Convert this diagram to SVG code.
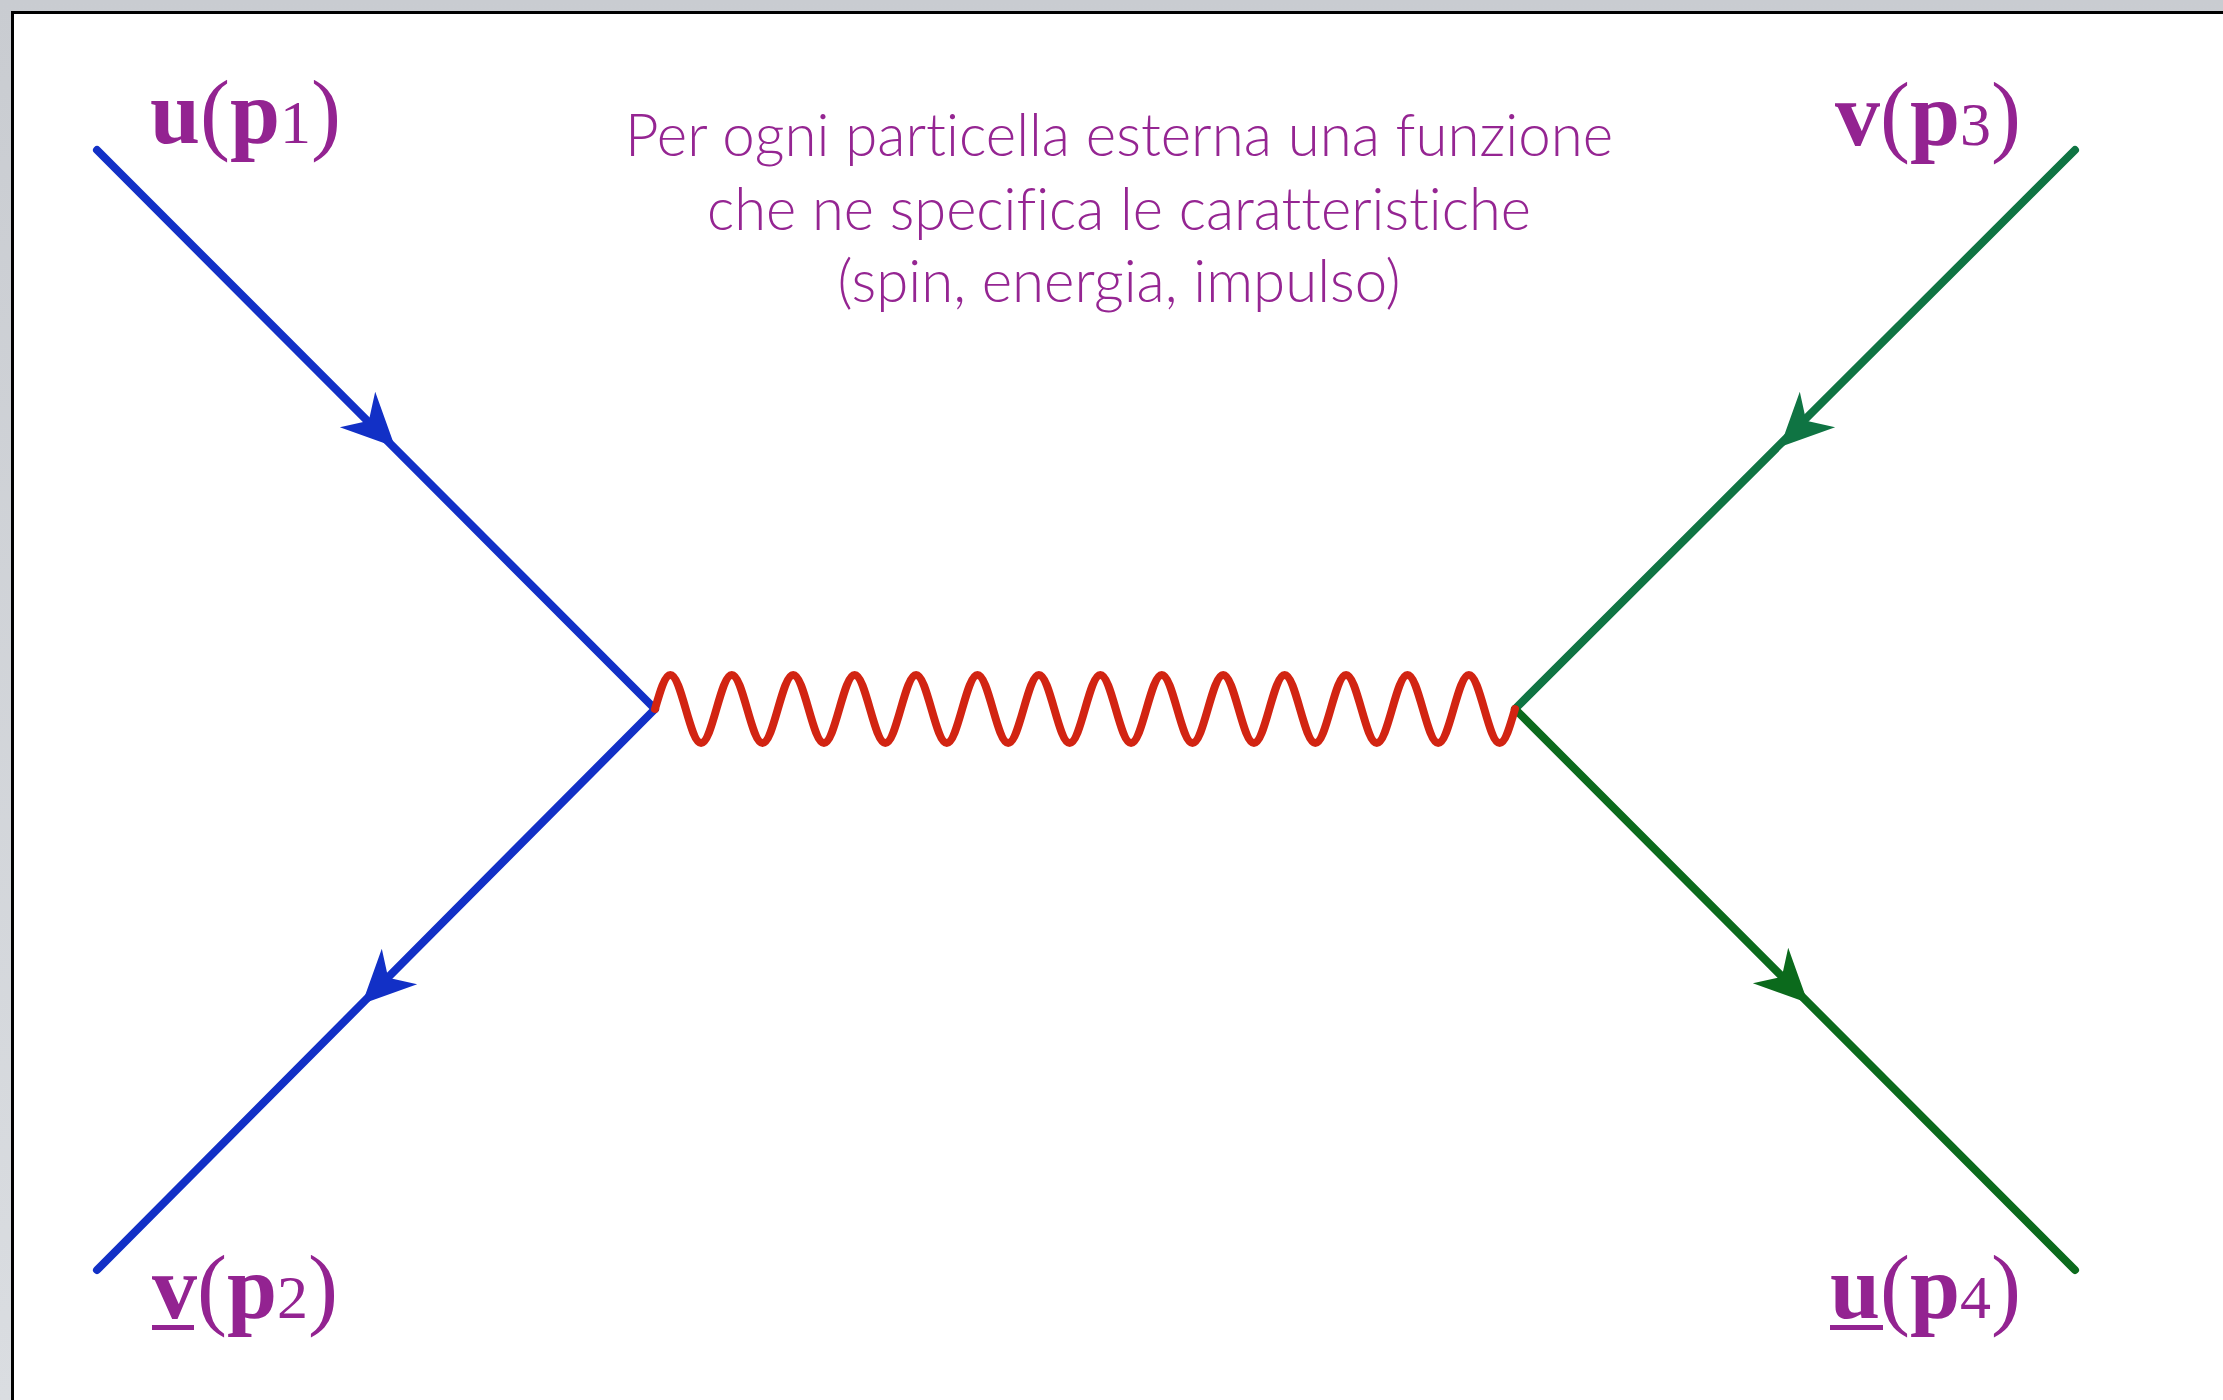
<svg xmlns="http://www.w3.org/2000/svg" width="2223" height="1400" viewBox="0 0 2223 1400">
  <defs>
    <linearGradient id="bg" x1="0" y1="0" x2="0" y2="1">
      <stop offset="0" stop-color="#c9ccd1"/>
      <stop offset="1" stop-color="#dadde1"/>
    </linearGradient>
    <path id="ah" d="M0,0 L-53,-25 L-37,0 L-53,25 Z"/>
    <style>
      .lbl { font-family: "Liberation Serif", "DejaVu Serif", serif; font-size: 90px; fill: #932391; }
      .b { font-weight: bold; }
      .sub { font-size: 62px; }
      .cap { font-family: "Lato", "Open Sans", sans-serif; font-weight: 300; font-size: 60px; fill: #952592; text-anchor: middle; font-variant-ligatures: none; }
      .fer { fill: none; stroke-width: 8; stroke-linecap: round; }
      .blue { stroke: #1230c6; }
      .g1 { stroke: #0f7443; }
      .g2 { stroke: #0b6a1c; }
      .wave { fill: none; stroke: #d22412; stroke-width: 8; stroke-linejoin: round; stroke-linecap: round; }
    </style>
  </defs>

  <!-- frame -->
  <rect x="0" y="0" width="2223" height="1400" fill="url(#bg)"/>
  <rect x="12" y="12" width="2211" height="1388" fill="#ffffff"/>
  <path d="M12.5,1400 V12.5 H2223" fill="none" stroke="#000" stroke-width="3"/>

  <g id="connectors">
    <line class="fer blue" x1="97" y1="150" x2="655" y2="709"/>
    <line class="fer blue" x1="655" y1="709" x2="97" y2="1270"/>
    <line class="fer g1" x1="2075" y1="150" x2="1515" y2="709"/>
    <line class="fer g2" x1="1515" y1="709" x2="2075" y2="1270"/>
    <use href="#ah" fill="#1230c6" transform="translate(395,447) rotate(45)"/>
    <use href="#ah" fill="#1230c6" transform="translate(362,1004) rotate(135)"/>
    <use href="#ah" fill="#0f7443" transform="translate(1780,447) rotate(135)"/>
    <use href="#ah" fill="#0b6a1c" transform="translate(1808,1003) rotate(45)"/>
    <path class="wave" d="M655,709 c5.014,-17.44 9.799,-34 15.357,-34
      s10.343,16.56 15.357,34 s9.799,34 15.357,34 s10.343,-16.56 15.357,-34 s9.799,-34 15.357,-34
      s10.343,16.56 15.357,34 s9.799,34 15.357,34 s10.343,-16.56 15.357,-34 s9.799,-34 15.357,-34
      s10.343,16.56 15.357,34 s9.799,34 15.357,34 s10.343,-16.56 15.357,-34 s9.799,-34 15.357,-34
      s10.343,16.56 15.357,34 s9.799,34 15.357,34 s10.343,-16.56 15.357,-34 s9.799,-34 15.357,-34
      s10.343,16.56 15.357,34 s9.799,34 15.357,34 s10.343,-16.56 15.357,-34 s9.799,-34 15.357,-34
      s10.343,16.56 15.357,34 s9.799,34 15.357,34 s10.343,-16.56 15.357,-34 s9.799,-34 15.357,-34
      s10.343,16.56 15.357,34 s9.799,34 15.357,34 s10.343,-16.56 15.357,-34 s9.799,-34 15.357,-34
      s10.343,16.56 15.357,34 s9.799,34 15.357,34 s10.343,-16.56 15.357,-34 s9.799,-34 15.357,-34
      s10.343,16.56 15.357,34 s9.799,34 15.357,34 s10.343,-16.56 15.357,-34 s9.799,-34 15.357,-34
      s10.343,16.56 15.357,34 s9.799,34 15.357,34 s10.343,-16.56 15.357,-34 s9.799,-34 15.357,-34
      s10.343,16.56 15.357,34 s9.799,34 15.357,34 s10.343,-16.56 15.357,-34 s9.799,-34 15.357,-34
      s10.343,16.56 15.357,34 s9.799,34 15.357,34 s10.343,-16.56 15.357,-34 s9.799,-34 15.357,-34
      s10.343,16.56 15.357,34 s9.799,34 15.357,34 s10.343,-16.56 15.357,-34 s9.799,-34 15.357,-34
      s10.343,16.56 15.357,34 s9.799,34 15.357,34 s10.343,-16.56 15.357,-34"/>
  </g>

  <g id="label-p1">
    <text class="lbl" x="150" y="143"><tspan class="b">u</tspan>(<tspan class="b">p</tspan><tspan class="sub">1</tspan>)</text>
  </g>
  <g id="label-p3">
    <text class="lbl" x="1835" y="145"><tspan class="b">v</tspan>(<tspan class="b">p</tspan><tspan class="sub">3</tspan>)</text>
  </g>
  <g id="label-p2">
    <text class="lbl" x="152" y="1318"><tspan class="b">v</tspan>(<tspan class="b">p</tspan><tspan class="sub">2</tspan>)</text>
    <rect x="152" y="1325" width="42" height="5" fill="#932391"/>
  </g>
  <g id="label-p4">
    <text class="lbl" x="1830" y="1318"><tspan class="b">u</tspan>(<tspan class="b">p</tspan><tspan class="sub">4</tspan>)</text>
    <rect x="1830" y="1325" width="53" height="5" fill="#932391"/>
  </g>

  <g id="caption">
    <text class="cap" x="1119" y="156" textLength="988" lengthAdjust="spacingAndGlyphs">Per ogni particella esterna una funzione</text>
    <text class="cap" x="1119" y="230" textLength="824" lengthAdjust="spacingAndGlyphs">che ne specifica le caratteristiche</text>
    <text class="cap" x="1119" y="302" textLength="563" lengthAdjust="spacingAndGlyphs">(spin, energia, impulso)</text>
  </g>
</svg>
